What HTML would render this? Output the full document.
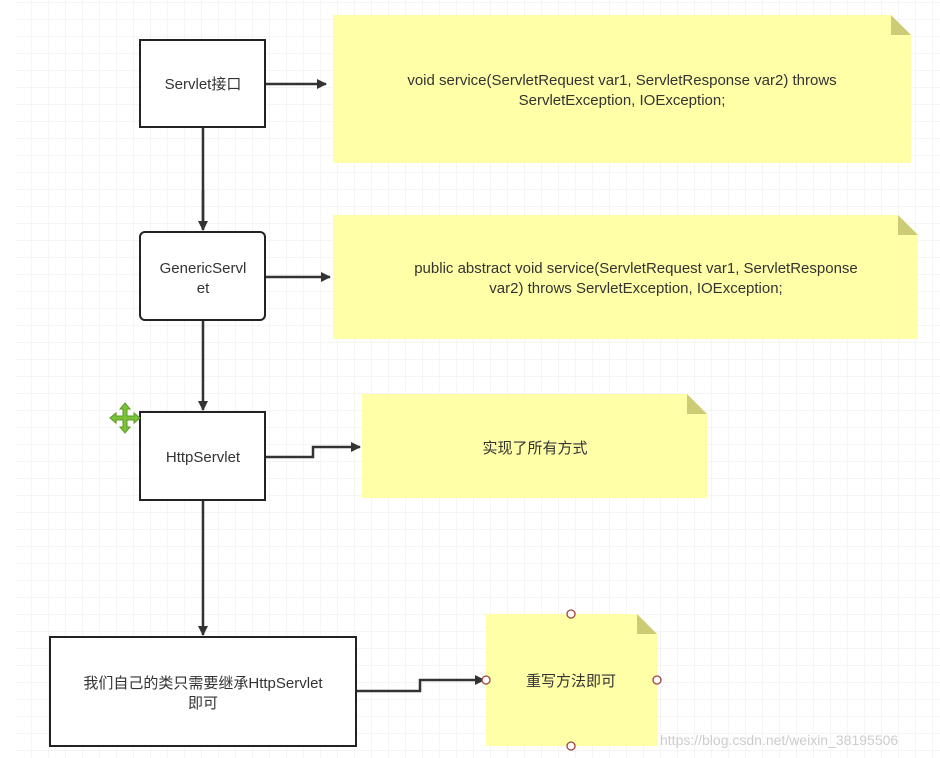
<!DOCTYPE html>
<html><head><meta charset="utf-8"><style>
body{margin:0;width:940px;height:758px;overflow:hidden;background:#fff;}
svg{display:block}
text{font-family:"Liberation Sans","Noto Sans CJK SC",sans-serif;font-size:15px;fill:#333;}
</style></head><body>
<svg width="940" height="758" xmlns="http://www.w3.org/2000/svg">
<defs>
<pattern id="g" width="17" height="17" patternUnits="userSpaceOnUse" x="15" y="3">
<path d="M17 0V17H0" fill="none" stroke="#ebebeb" stroke-width="1"/>
</pattern>
<marker id="a" markerWidth="10" markerHeight="10" refX="9" refY="5" orient="auto" markerUnits="userSpaceOnUse" viewBox="0 0 10 10">
<path d="M0,0 L10,5 L0,10 z" fill="#333"/>
</marker>
</defs>
<rect x="15" y="0" width="925" height="758" fill="url(#g)"/>
<g fill="none" stroke="#333" stroke-width="2.5" marker-end="url(#a)">
<path d="M203 127V230" marker-end="none"/><path d="M203 190V230"/>
<path d="M203 320V410"/>
<path d="M203 500V635"/>
<path d="M265 84H326"/>
<path d="M265 277H330"/>
<path d="M265 457H313V447H360"/>
<path d="M356 691H420V680H484"/>
</g>
<g fill="#fff" stroke="#222" stroke-width="2">
<rect x="140" y="40" width="125" height="87"/>
<rect x="140" y="232" width="125" height="88" rx="5"/>
<rect x="140" y="412" width="125" height="88"/>
<rect x="50" y="637" width="306" height="109"/>
</g>
<g>
<path d="M333 15H891L911 35V163H333Z" fill="#ffffa8"/><path d="M891 15L911 35H891Z" fill="#cccc77"/>
<path d="M333 215H898L918 235V339H333Z" fill="#ffffa8"/><path d="M898 215L918 235H898Z" fill="#cccc77"/>
<path d="M362 394H687L707 414V498H362Z" fill="#ffffa8"/><path d="M687 394L707 414H687Z" fill="#cccc77"/>
<path d="M486 614H637L657 634V746H486Z" fill="#ffffa8"/><path d="M637 614L657 634H637Z" fill="#cccc77"/>
</g>
<g fill="#fff" stroke="#a04040" stroke-width="1.3">
<circle cx="571" cy="614" r="4"/><circle cx="571" cy="746" r="4"/><circle cx="486" cy="680" r="4"/><circle cx="657" cy="680" r="4"/>
</g>
<g fill="#7ac23a" stroke="#5a9a20" stroke-width="1">
<path d="M125 403l5 6h-3v7h7v-3l6 5-6 5v-3h-7v7h3l-5 6-5-6h3v-7h-7v3l-6-5 6-5v3h7v-7h-3z"/>
</g>
<g text-anchor="middle">
<text x="203" y="89">Servlet接口</text>
<text x="203" y="273">GenericServl</text><text x="203" y="293">et</text>
<text x="203" y="462">HttpServlet</text>
<text x="203" y="688">我们自己的类只需要继承HttpServlet</text><text x="203" y="708">即可</text>
<text x="622" y="85">void service(ServletRequest var1, ServletResponse var2) throws</text>
<text x="622" y="105">ServletException, IOException;</text>
<text x="636" y="273">public abstract void service(ServletRequest var1, ServletResponse</text>
<text x="636" y="293">var2) throws ServletException, IOException;</text>
<text x="535" y="453">实现了所有方式</text>
<text x="571" y="686">重写方法即可</text>
</g>
<text x="660" y="745" style="font-size:14px;fill:#ccc">https://blog.csdn.net/weixin_38195506</text>
</svg>
</body></html>
